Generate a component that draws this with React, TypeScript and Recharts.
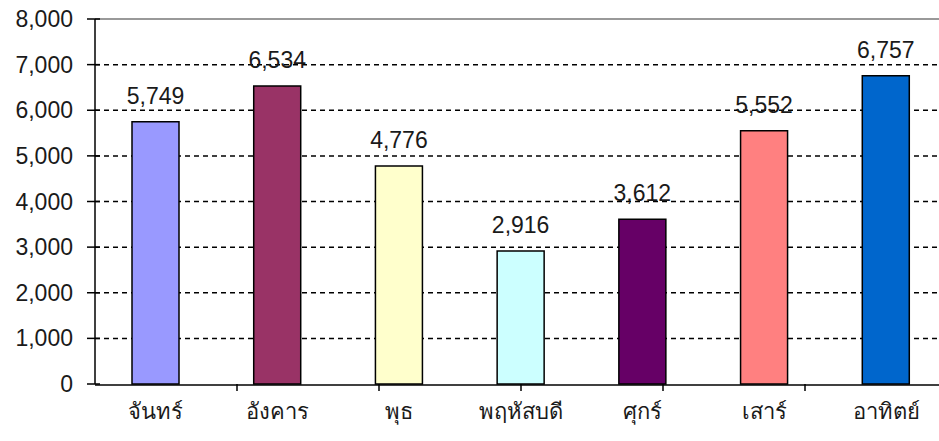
import React from "react";
import {
  BarChart,
  Bar,
  Cell,
  XAxis,
  YAxis,
  CartesianGrid,
  ReferenceLine,
  LabelList,
} from "recharts";

const days = ["จันทร์", "อังคาร", "พุธ", "พฤหัสบดี", "ศุกร์", "เสาร์", "อาทิตย์"];
const counts = [5749, 6534, 4776, 2916, 3612, 5552, 6757];
const barColors = ["#9999FF", "#993366", "#FFFFCC", "#CCFFFF", "#660066", "#FF8080", "#0066CC"];
const yTicks = [0, 1000, 2000, 3000, 4000, 5000, 6000, 7000, 8000];
const gridValues = [1000, 2000, 3000, 4000, 5000, 6000, 7000];
const dividerTicks = [1, 2, 3, 4, 5, 6];

const data = days.map((day, i) => ({ day, value: counts[i] }));

const FONT = "'Liberation Sans', Arial, sans-serif";
const fmt = (v: number) => v.toLocaleString("en-US");

// y tick: label plus a short mark that crosses the axis
const YTick = (props: any) => {
  const { x, y, payload } = props;
  return (
    <g>
      <line x1={x + 14} x2={x + 27} y1={y} y2={y} stroke="#000" strokeWidth={1.5} />
      <text
        x={x}
        y={y}
        dy="0.35em"
        textAnchor="end"
        fontSize={23}
        fontFamily={FONT}
        fill="#1a1a1a"
      >
        {fmt(payload.value)}
      </text>
    </g>
  );
};

const App = () => {
  return (
    <div style={{ position: "absolute", left: 0, top: 0, background: "#fff" }}>
      <BarChart
        width={939}
        height={441}
        data={data}
        margin={{ top: 19, right: -8, bottom: 0, left: 0 }}
        barSize={47}
      >
        <CartesianGrid
          vertical={false}
          horizontalValues={gridValues}
          stroke="#000"
          strokeDasharray="5 4"
          strokeWidth={1.5}
        />
        <ReferenceLine y={8000} stroke="#999" strokeWidth={2} />
        {/* number axis only used for the tick marks between categories */}
        <XAxis
          type="number"
          domain={[0, 7]}
          ticks={dividerTicks}
          allowDataOverflow
          axisLine={false}
          tickSize={7}
          tickLine={{ stroke: "#000", strokeWidth: 1.5 }}
          tickFormatter={() => ""}
          height={1}
        />
        <XAxis
          xAxisId="cat"
          dataKey="day"
          axisLine={{ stroke: "#000", strokeWidth: 1.5 }}
          tickLine={false}
          tickSize={0}
          tickMargin={18}
          height={56}
          tick={{ fontSize: 22, fontFamily: FONT, fill: "#1a1a1a" }}
          interval={0}
        />
        <YAxis
          width={95}
          domain={[0, 8000]}
          ticks={yTicks}
          interval={0}
          axisLine={{ stroke: "#000", strokeWidth: 1.5 }}
          tickLine={false}
          tickSize={8}
          tickMargin={14}
          tick={<YTick />}
        />
        <Bar
          xAxisId="cat"
          dataKey="value"
          stroke="#000"
          strokeWidth={1.5}
          isAnimationActive={false}
        >
          {data.map((entry, index) => (
            <Cell key={`cell-${index}`} fill={barColors[index]} />
          ))}
          <LabelList
            dataKey="value"
            position="top"
            offset={18}
            formatter={(v: any) => fmt(Number(v))}
            style={{ fontSize: 23, fontFamily: FONT, fill: "#1a1a1a" }}
          />
        </Bar>
      </BarChart>
    </div>
  );
};

export default App;
